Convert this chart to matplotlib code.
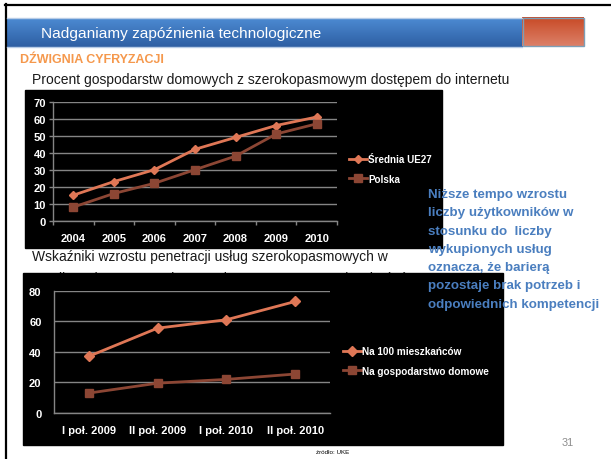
import matplotlib
matplotlib.use("Agg")
import matplotlib.pyplot as plt
import numpy as np
from matplotlib.patches import Rectangle

# ===== DANE =====
lata = ["2004", "2005", "2006", "2007", "2008", "2009", "2010"]
srednia_ue27 = [15, 23, 30, 42, 49, 56, 61]
polska = [8, 16, 22, 30, 38, 51, 57]

polrocza = ["I poł. 2009", "II poł. 2009", "I poł. 2010", "II poł. 2010"]
na_100_mieszk = [37, 55.5, 61, 73]
na_gospodarstwo = [13, 19.5, 22, 25.5]

tekst_boczny = ["Niższe tempo wzrostu", "liczby użytkowników w",
                "stosunku do  liczby", "wykupionych usług",
                "oznacza, że barierą", "pozostaje brak potrzeb i",
                "odpowiednich kompetencji"]

plt.rcParams['font.family'] = ['Liberation Sans', 'DejaVu Sans']

W, H = 611, 460
fig = plt.figure(figsize=(W / 100, H / 100), dpi=100)


def px(x0, y0, x1, y1):
    # prostokat w pikselach -> wspolrzedne figury
    return [x0 / W, 1 - y1 / H, (x1 - x0) / W, (y1 - y0) / H]


# ===== TLO SLAJDU =====
bg = fig.add_axes([0, 0, 1, 1])
bg.set_xlim(0, W)
bg.set_ylim(H, 0)
bg.axis("off")

bg.plot([5, W], [5.5, 5.5], color="black", lw=1.6)
bg.plot([5.5, 5.5], [5, H], color="black", lw=1.6)

grad = np.linspace(0, 1, 50).reshape(-1, 1)
blue = matplotlib.colors.LinearSegmentedColormap.from_list("b", ["#4C8AD2", "#2E5FA3"])
bg.imshow(grad, cmap=blue, extent=(6.5, 522, 47.5, 18.5), aspect="auto", zorder=1)
bg.plot([6.5, 522], [18.5, 18.5], color="#B8CCE6", lw=1, zorder=2)
bg.plot([6.5, 522], [47.5, 47.5], color="#B8CCE6", lw=1, zorder=2)
orange = matplotlib.colors.LinearSegmentedColormap.from_list("o", ["#C84A26", "#DC8068"])
bg.imshow(grad, cmap=orange, extent=(522, 584, 47, 18.5), aspect="auto", zorder=1)
bg.add_patch(Rectangle((522.5, 19), 61, 28, fill=False, ec="#7D9FB7", lw=1, zorder=2))
bg.set_xlim(0, W)
bg.set_ylim(H, 0)

bg.text(41, 34, "Nadganiamy zapóźnienia technologiczne", color="white",
        fontsize=11.1, va="center", zorder=3)
bg.text(20, 60, "DŹWIGNIA CYFRYZACJI", color="#F5984C", fontsize=9,
        fontweight="bold", va="center", zorder=3)
bg.text(32, 80, "Procent gospodarstw domowych z szerokopasmowym dostępem do internetu",
        fontsize=10, va="center", color="#1a1a1a", zorder=3)
bg.text(32, 257, "Wskaźniki wzrostu penetracji usług szerokopasmowych w",
        fontsize=10, va="center", color="#1a1a1a", zorder=3)
bg.text(32, 279, "przeliczeniu na gospodarstwo domowe oraz 100 mieszkańców",
        fontsize=10, va="center", color="#1a1a1a", zorder=3)

# czarne tla wykresow
bg.add_patch(Rectangle((25, 91), 417, 158, color="black", zorder=4))
bg.add_patch(Rectangle((23, 274), 480, 172, color="black", zorder=4))

for i, linia in enumerate(tekst_boczny):
    bg.text(428, 195 + 18.3 * i, linia, color="#4A7EBF", fontsize=9.6,
            fontweight="bold", va="center", zorder=6)

bg.text(333, 453, "źródło: UKE", fontsize=4.5, ha="center", va="center", zorder=3)
bg.text(568, 443, "31", fontsize=7.8, ha="center", va="center", color="#8C8C8C", zorder=3)

kol_jasny = "#DF7756"
kol_ciemny = "#8C4634"
szary = "#858585"


def styl(ax, ymax, ystep, tick_len):
    ax.set_facecolor("black")
    ax.set_ylim(0, ymax)
    ax.set_yticks(np.arange(0, ymax + 1, ystep))
    ax.grid(axis="y", color=szary, lw=1)
    ax.set_axisbelow(True)
    for s in ["top", "right"]:
        ax.spines[s].set_visible(False)
    for s in ["left", "bottom"]:
        ax.spines[s].set_color(szary)
        ax.spines[s].set_linewidth(1)
    ax.tick_params(axis="y", colors=szary, length=tick_len, width=1,
                   labelcolor="white", labelsize=8, pad=2)
    ax.tick_params(axis="x", which="major", length=0, labelcolor="white",
                   labelsize=8, pad=9)
    ax.tick_params(axis="x", which="minor", colors=szary, length=tick_len, width=1)
    for t in ax.get_xticklabels() + ax.get_yticklabels():
        t.set_fontweight("bold")


# ===== WYKRES 1 =====
ax1 = fig.add_axes(px(53, 102.7, 337, 221.7))
x1 = np.arange(len(lata))
ax1.plot(x1, srednia_ue27, color=kol_jasny, lw=2, marker="D", ms=4, label="Średnia UE27")
ax1.plot(x1, polska, color=kol_ciemny, lw=2, marker="s", ms=5.5, label="Polska")
ax1.set_xlim(-0.5, len(lata) - 0.5)
ax1.set_xticks(x1)
ax1.set_xticklabels(lata)
ax1.set_xticks(np.arange(-0.5, len(lata)), minor=True)
styl(ax1, 70, 10, 3)
ax1.legend(loc="center left", bbox_to_anchor=(349 / W, 1 - 170 / H),
           bbox_transform=fig.transFigure, frameon=False, fontsize=7.1,
           labelcolor="white", prop={"weight": "bold", "size": 7.1},
           handlelength=1.85, handletextpad=0.1, labelspacing=1.0,
           borderpad=0, borderaxespad=0)

# ===== WYKRES 2 =====
ax2 = fig.add_axes(px(54, 291.7, 330, 414))
x2 = np.arange(len(polrocza))
ax2.plot(x2, na_100_mieszk, color=kol_jasny, lw=2, marker="D", ms=5, label="Na 100 mieszkańców")
ax2.plot(x2, na_gospodarstwo, color=kol_ciemny, lw=2, marker="s", ms=6, label="Na gospodarstwo domowe")
ax2.set_xlim(-0.5, len(polrocza) - 0.5)
ax2.set_xticks(x2)
ax2.set_xticklabels(polrocza)
styl(ax2, 80, 20, 0)
ax2.tick_params(axis="y", pad=9)
ax2.legend(loc="center left", bbox_to_anchor=(343 / W, 1 - 362 / H),
           bbox_transform=fig.transFigure, frameon=False,
           labelcolor="white", prop={"weight": "bold", "size": 7.2},
           handlelength=1.85, handletextpad=0.1, labelspacing=0.95,
           borderpad=0, borderaxespad=0)

plt.savefig("out.png", dpi=100)
